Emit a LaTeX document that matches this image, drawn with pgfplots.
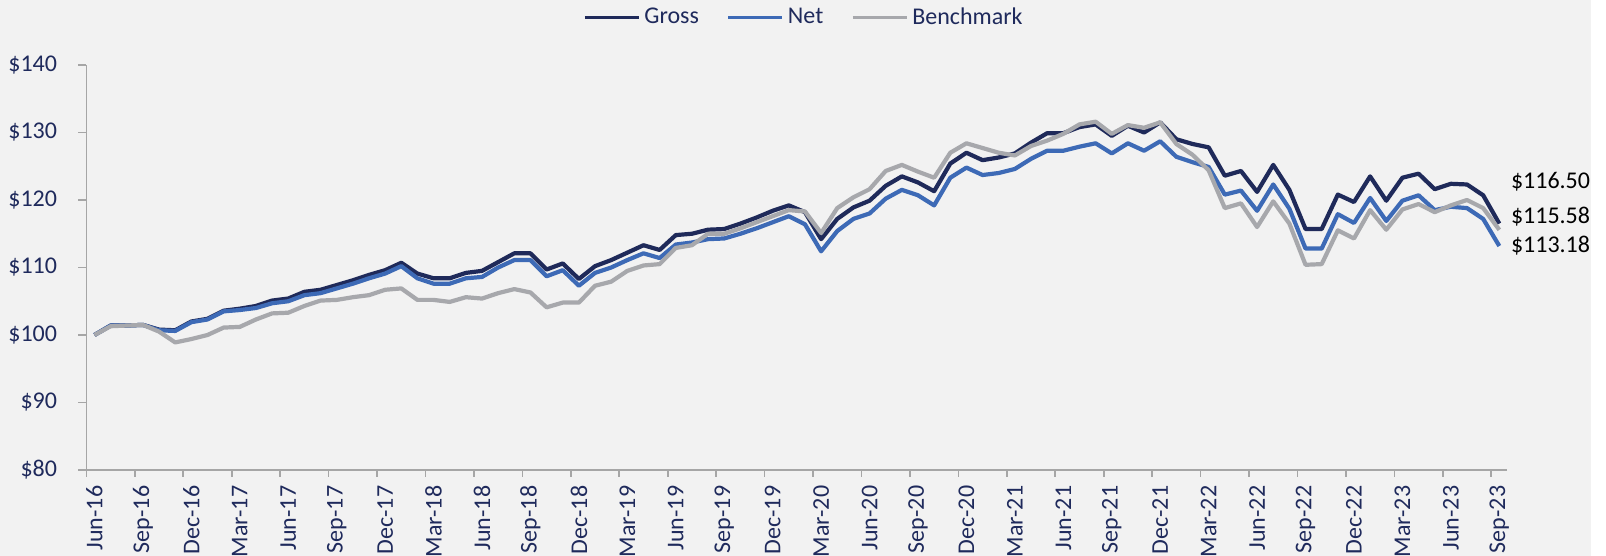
\documentclass[border=0pt]{standalone}
\usepackage{fontspec}
\setmainfont{Carlito}
\usepackage{pgfplots}
\usepackage{pgfplotstable}
\pgfplotsset{compat=1.18}

\definecolor{bg}{HTML}{F2F2F2}
\definecolor{gross}{HTML}{1F2A5A}
\definecolor{net}{HTML}{3D6AB6}
\definecolor{bench}{HTML}{A7A8AC}
\definecolor{navy}{HTML}{1F2A5C}
\definecolor{axisgray}{HTML}{A6A6A6}

% growth of $100, month index 0 = Jun-16
\pgfplotstableread{
m  gross  net    bench
0  100.0  100.0  100.0
1  101.4  101.4  101.3
2  101.4  101.4  101.4
3  101.5  101.5  101.5
4  100.8  100.7  100.5
5  100.7  100.6  98.9
6  102.0  101.9  99.4
7  102.4  102.3  100.0
8  103.6  103.5  101.1
9  103.9  103.7  101.2
10 104.3  104.0  102.3
11 105.1  104.7  103.2
12 105.4  105.0  103.3
13 106.4  105.9  104.3
14 106.7  106.2  105.1
15 107.4  106.9  105.2
16 108.1  107.6  105.6
17 108.9  108.4  105.9
18 109.6  109.1  106.7
19 110.7  110.2  106.9
20 109.1  108.4  105.2
21 108.4  107.6  105.2
22 108.4  107.6  104.9
23 109.2  108.4  105.6
24 109.5  108.6  105.4
25 110.8  110.0  106.2
26 112.1  111.1  106.8
27 112.1  111.1  106.3
28 109.7  108.7  104.1
29 110.6  109.6  104.8
30 108.3  107.3  104.8
31 110.2  109.2  107.3
32 111.1  110.0  107.9
33 112.2  111.1  109.5
34 113.3  112.1  110.3
35 112.6  111.4  110.5
36 114.8  113.4  112.9
37 115.0  113.7  113.3
38 115.6  114.2  115.0
39 115.7  114.3  115.0
40 116.5  115.0  115.8
41 117.4  115.8  116.7
42 118.4  116.7  117.6
43 119.2  117.6  118.5
44 118.2  116.4  118.3
45 114.2  112.4  115.1
46 117.2  115.4  118.8
47 118.9  117.2  120.4
48 119.9  118.0  121.6
49 122.1  120.2  124.3
50 123.5  121.5  125.2
51 122.6  120.7  124.2
52 121.3  119.2  123.3
53 125.4  123.3  127.0
54 127.0  124.8  128.4
55 125.9  123.7  127.7
56 126.3  124.0  127.0
57 126.9  124.6  126.6
58 128.5  126.1  128.0
59 129.9  127.3  128.8
60 129.9  127.3  129.8
61 130.8  127.9  131.2
62 131.2  128.4  131.6
63 129.5  126.9  129.8
64 131.0  128.4  131.1
65 130.0  127.3  130.7
66 131.5  128.7  131.5
67 129.0  126.4  128.3
68 128.3  125.6  126.7
69 127.8  124.9  124.4
70 123.6  120.8  118.8
71 124.3  121.4  119.5
72 121.2  118.4  116.0
73 125.2  122.3  119.8
74 121.5  118.7  116.5
75 115.7  112.8  110.4
76 115.7  112.8  110.5
77 120.8  117.9  115.5
78 119.7  116.6  114.3
79 123.5  120.3  118.5
80 119.9  116.9  115.6
81 123.3  119.9  118.6
82 123.9  120.7  119.4
83 121.6  118.5  118.2
84 122.4  119.0  119.2
85 122.3  118.8  120.0
86 120.7  117.2  118.8
87 116.50 113.18 115.58
}\perf

\begin{document}
\begin{tikzpicture}[font=\fontsize{12pt}{14pt}\selectfont]
\fill[bg] (0pt,0pt) rectangle (795.5pt,278pt);
\begin{axis}[
  at={(43.2pt,43pt)}, anchor=south west,
  scale only axis, width=710.5pt, height=202.5pt,
  xmin=-0.5, xmax=87.5, ymin=80, ymax=140,
  axis x line*=bottom, axis y line*=left,
  axis line style={draw=axisgray, line width=0.8pt, -},
  tick align=outside,
  ytick={80,90,...,140},
  yticklabels={\$80,\$90,\$100,\$110,\$120,\$130,\$140},
  xtick={0,3,...,87},
  xticklabels={Jun-16,Sep-16,Dec-16,Mar-17,Jun-17,Sep-17,Dec-17,Mar-18,Jun-18,Sep-18,Dec-18,Mar-19,Jun-19,Sep-19,Dec-19,Mar-20,Jun-20,Sep-20,Dec-20,Mar-21,Jun-21,Sep-21,Dec-21,Mar-22,Jun-22,Sep-22,Dec-22,Mar-23,Jun-23,Sep-23},
  minor xtick={-0.5,2.5,...,86.5},
  major tick length=4pt, minor tick length=3.5pt,
  tick style={draw=axisgray, line width=0.8pt},
  major x tick style={draw=none},
  ticklabel style={text=navy},
  xticklabel style={rotate=90, anchor=east, inner sep=0pt, xshift=0.8pt},
  yticklabel style={anchor=east, inner sep=0pt},
  xticklabel shift=4.5pt,
  yticklabel shift=10.5pt,
  legend columns=3,
  legend style={at={(0.3495,1.1168)}, anchor=west, draw=none, fill=none,
    inner sep=0pt, nodes={inner sep=0pt, text=navy},
    /tikz/every odd column/.append style={column sep=2pt},
    /tikz/every even column/.append style={column sep=14pt}},
  legend image code/.code={\draw[#1, line width=1.5pt] (0pt,0pt) -- (27pt,0pt);},
  clip=false,
]
\addplot[gross, line width=2.1pt, line join=round] table[x=m, y=gross] {\perf};
\addplot[net, line width=2.1pt, line join=round] table[x=m, y=net] {\perf};
\addplot[bench, line width=2.1pt, line join=round] table[x=m, y=bench] {\perf};
\legend{Gross, Net, Benchmark}
\end{axis}
\node[anchor=west, inner sep=0pt] at (755.3pt,187.15pt) {\$116.50};
\node[anchor=west, inner sep=0pt] at (755.3pt,169.65pt) {\$115.58};
\node[anchor=west, inner sep=0pt] at (755.3pt,155pt) {\$113.18};
\pgfresetboundingbox
\path[use as bounding box] (0pt,0pt) rectangle (803pt,278pt);
\end{tikzpicture}
\end{document}
